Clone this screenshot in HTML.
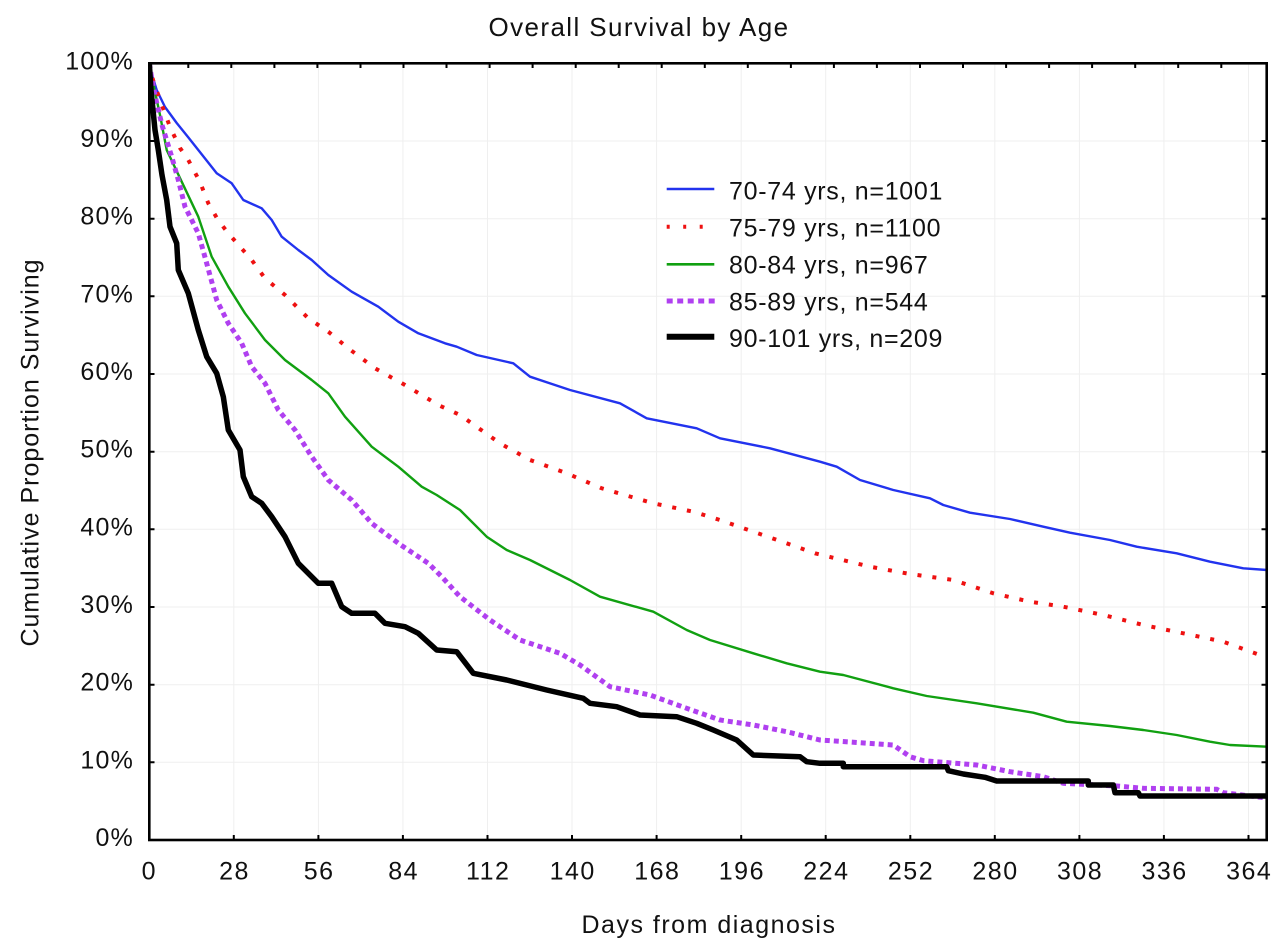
<!DOCTYPE html>
<html>
<head>
<meta charset="utf-8">
<style>
html,body{margin:0;padding:0;background:#fff;}
svg{display:block;}
text{font-family:"Liberation Sans",Arial,sans-serif;fill:#111;}
</style>
</head>
<body>
<svg width="1280" height="949" viewBox="0 0 1280 949" xmlns="http://www.w3.org/2000/svg">
<rect x="0" y="0" width="1280" height="949" fill="#fff"/>
<defs>
<clipPath id="plot"><rect x="149.3" y="63.3" width="1117.4" height="776.7"/></clipPath>
</defs>
<path fill="none" stroke="#efefef" stroke-width="1" d="M233.8 63V840M318.4 63V840M402.9 63V840M487.5 63V840M572 63V840M656.6 63V840M741.2 63V840M825.7 63V840M910.3 63V840M994.8 63V840M1079.4 63V840M1163.9 63V840M1248.5 63V840M149 762.3H1267M149 684.7H1267M149 607H1267M149 529.3H1267M149 451.7H1267M149 374H1267M149 296.3H1267M149 218.7H1267M149 141H1267"/>
<g clip-path="url(#plot)" fill="none" stroke-linejoin="round">
<polyline stroke="#2233ee" stroke-width="2.4" points="149.3,63.3 152,75 156.7,90 165,107 176.7,123 188,137 198.3,150 216.7,173.3 231.7,183.3 243.3,200 261.7,208.3 271.7,220 281.7,236.7 298.3,250 311.7,260 328.3,275 351.7,291.7 378.3,306.7 398.3,321.7 418.3,333.3 445,343.3 456.7,346.7 476.7,355 513.3,363.3 530,376.7 570,390 620,403.3 646.7,418.3 696.7,428.3 720,438.3 770,448.3 820,461.7 836.7,466.7 860,480 893.3,490 930,498.3 943.3,505 970,512.7 1010,519 1043.3,526.7 1070,532.7 1110,540 1136.7,546.7 1176.7,553.3 1210,561.7 1243.3,568.3 1267,570"/>
<polyline stroke="#11a011" stroke-width="2.4" points="149.3,63.3 152,78 155,92 160,115 166.7,150 181.7,181.7 198.3,216.7 211.7,256.7 228.3,286.7 245,313.3 265,340 285,360 311.7,380 328.3,393.3 345,416.7 371.7,446.7 398.3,466.7 421.7,486.7 436.7,495 460,510 486.7,536.7 506.7,550 530,560 570,580 600,596.7 653.3,611.7 686.7,630 710,640 753.3,653.3 786.7,663.3 820,671.7 843.3,675 893.3,688.3 926.7,696 976.7,703.3 1033.3,712.7 1066.7,721.7 1110,726 1143.3,730 1176.7,735 1210,741.7 1230,745 1267,746.7"/>
<polyline stroke="#ee1111" stroke-width="4" stroke-dasharray="4 11" stroke-linejoin="miter" points="149.3,63.3 153,80 160,100 170,127 180,148 188.3,160 200,182 208.3,203.3 218,220 228.3,233.3 251.7,260 265,278.3 285,295 308.3,318.3 328.3,331.7 348.3,348.3 375,368.3 405,385 438.3,405 460,415 500,443.3 530,460 566.7,473.3 601.7,488.3 653.3,503.3 693.3,511.7 720,520 753.3,531.7 786.7,543.3 815,553.3 870,566.7 910,574 953.3,580 993.3,593.3 1030,601.7 1063.3,606.7 1103.3,615 1143.3,625 1183.3,633.3 1223.3,641.7 1260,655 1267,657"/>
<polyline stroke="#b040f0" stroke-width="5" stroke-dasharray="5 4" stroke-linejoin="miter" points="149.3,63.3 152,80 156,100 162,125 171.7,156.7 178.3,180 185,206.7 198.3,233.3 206.7,263.3 216.7,300 228.3,323.3 241.7,343.3 251.7,366.7 265,383.3 278.3,410 295,430 311.7,456.7 328.3,480 351.7,500 371.7,523.3 398.3,543.3 428.3,563.3 441.7,576.7 460,596.7 490,620 520,640 560,653.3 580,665 610,686.7 650,695 686.7,708.3 720,720 753.3,725 786.7,731.7 820,740 893.3,745 910,756.7 923.3,760.7 976.7,765 1010,771.7 1043.3,776.7 1063.3,783.3 1116.7,786 1143.3,788.3 1216.7,789.3 1223.3,792.7 1267,798"/>
<polyline stroke="#000" stroke-width="5.5" points="149.3,63.3 151,90 153,110 155,130 158.3,150 162,175 166.7,200 170,226.7 176.7,243.3 178.3,270 188.3,293.3 198.3,330 206.7,356.7 216.7,373.3 223.3,396.7 228.3,430 240,450 243.3,476.7 251.7,496.7 261.7,503.3 271.7,516.7 285,536.7 298.3,563.3 318.3,583.3 331.7,583.3 341.7,606.7 351.7,613.3 375,613.3 385,623.3 405,626.7 418.3,633.3 436.7,650 456.7,651.7 473.3,673.3 506.7,680 546.7,690 583.3,698.3 590,703.3 616.7,706.7 640,715 676.7,716.7 696.7,723.3 713.3,730 736.7,740 753.3,755 800,756.7 806.7,761.7 820,763.3 843.3,763.3 843.3,766.7 946.7,766.7 948.3,770.7 963.3,774 985,777.3 996.7,781 1088.3,781 1088.3,785 1113.3,785 1115,792.7 1138.3,792.7 1140,796 1267,796"/>
</g>
<rect x="149.3" y="63.3" width="1117.4" height="776.7" fill="none" stroke="#000" stroke-width="2.6"/>
<path fill="none" stroke="#000" stroke-width="2" d="M233.8 840v-5M318.4 840v-5M402.9 840v-5M487.5 840v-5M572 840v-5M656.6 840v-5M741.2 840v-5M825.7 840v-5M910.3 840v-5M994.8 840v-5M1079.4 840v-5M1163.9 840v-5M1248.5 840v-5M149 762.3h5.5M149 684.7h5.5M149 607h5.5M149 529.3h5.5M149 451.7h5.5M149 374h5.5M149 296.3h5.5M149 218.7h5.5M149 141h5.5M1267 762.3h-5.5M1267 684.7h-5.5M1267 607h-5.5M1267 529.3h-5.5M1267 451.7h-5.5M1267 374h-5.5M1267 296.3h-5.5M1267 218.7h-5.5M1267 141h-5.5M188.3 63v5M231.3 63v5M274.4 63v5M317.4 63v5M360.5 63v5M403.5 63v5M446.5 63v5M489.6 63v5M532.6 63v5M575.7 63v5M618.7 63v5M661.7 63v5M704.8 63v5M747.8 63v5M790.9 63v5M833.9 63v5M876.9 63v5M920 63v5M963 63v5M1006.1 63v5M1049.1 63v5M1092.1 63v5M1135.2 63v5M1178.2 63v5M1221.3 63v5"/>
<text x="639" y="36" font-size="26" letter-spacing="1.4" text-anchor="middle">Overall Survival by Age</text>
<g font-size="25" letter-spacing="1.2" text-anchor="end">
<text x="134" y="69.3">100%</text><text x="134" y="147">90%</text><text x="134" y="224.7">80%</text><text x="134" y="302.3">70%</text><text x="134" y="380">60%</text><text x="134" y="457.7">50%</text><text x="134" y="535.3">40%</text><text x="134" y="613">30%</text><text x="134" y="690.7">20%</text><text x="134" y="768.3">10%</text><text x="134" y="846">0%</text>
</g>
<g font-size="25" letter-spacing="1.5" text-anchor="middle">
<text x="149.3" y="879.3">0</text><text x="234.5" y="879.3">28</text><text x="319.1" y="879.3">56</text><text x="403.6" y="879.3">84</text><text x="488.2" y="879.3">112</text><text x="572.7" y="879.3">140</text><text x="657.3" y="879.3">168</text><text x="741.9" y="879.3">196</text><text x="826.4" y="879.3">224</text><text x="911" y="879.3">252</text><text x="995.5" y="879.3">280</text><text x="1080.1" y="879.3">308</text><text x="1164.6" y="879.3">336</text><text x="1249.2" y="879.3">364</text>
</g>
<text x="709" y="933" font-size="25" letter-spacing="1.5" text-anchor="middle">Days from diagnosis</text>
<text transform="translate(38.5,452.5) rotate(-90)" x="0" y="0" font-size="25" letter-spacing="1" text-anchor="middle">Cumulative Proportion Surviving</text>
<path stroke="#2233ee" stroke-width="2.6" d="M666.7 189H714.3"/>
<path stroke="#ee1111" stroke-width="4" stroke-dasharray="3 13.5" d="M666.7 226.7H714.3"/>
<path stroke="#11a011" stroke-width="2.6" d="M666.7 264.3H714.3"/>
<path stroke="#b040f0" stroke-width="5" stroke-dasharray="6 4.5" d="M666.7 301H716"/>
<path stroke="#000" stroke-width="6" d="M666.7 336.7H714.3"/>
<g font-size="25" letter-spacing="0.7">
<text x="729" y="199.3">70-74 yrs, n=1001</text>
<text x="729" y="236.4">75-79 yrs, n=1100</text>
<text x="729" y="273.5">80-84 yrs, n=967</text>
<text x="729" y="310.6">85-89 yrs, n=544</text>
<text x="729" y="347.2">90-101 yrs, n=209</text>
</g>
</svg>
</body>
</html>
